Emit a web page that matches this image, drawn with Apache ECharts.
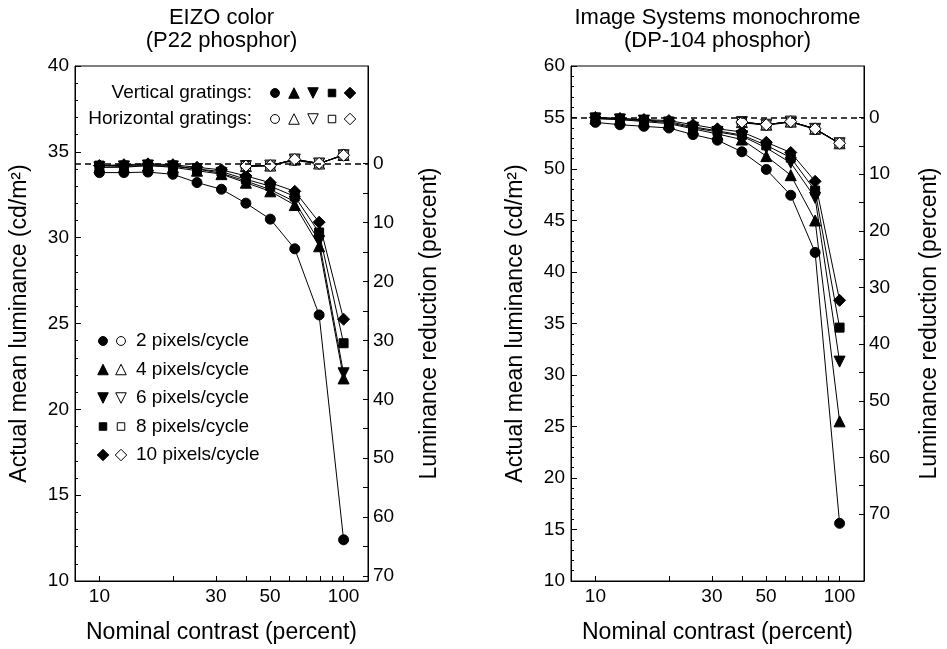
<!DOCTYPE html>
<html><head><meta charset="utf-8">
<script src="https://cdn.jsdelivr.net/npm/echarts@6/dist/echarts.min.js"></script>
<style>html,body{margin:0;padding:0;background:#fff}#c{width:947px;height:649px}</style>
</head><body><div id="c"></div>
<script>
// ---------- data ----------
const contrast = [10, 12.6, 15.8, 20, 25.1, 31.6, 39.8, 50.1, 63.1, 79.4, 100];
const contrastHigh = [39.8, 50.1, 63.1, 79.4, 100];
const xTickValues = [10, 20, 30, 40, 50, 60, 70, 80, 90, 100];
const xLabelValues = [10, 30, 50, 100];
const reductionLabels = [0, 10, 20, 30, 40, 50, 60, 70];
const reductionTicks = [0, 5, 10, 15, 20, 25, 30, 35, 40, 45, 50, 55, 60, 65, 70];
const pixelLabels = ['2 pixels/cycle', '4 pixels/cycle', '6 pixels/cycle', '8 pixels/cycle', '10 pixels/cycle'];

// EIZO color (P22) - vertical gratings
const eizoV2  = [33.79, 33.79, 33.82, 33.69, 33.21, 32.82, 32.01, 31.08, 29.35, 25.5, 12.4];
const eizoV4  = [34.1, 34.1, 34.2, 34.1, 33.9, 33.7, 33.2, 32.7, 31.9, 29.5, 21.8];
const eizoV6  = [34.1, 34.15, 34.2, 34.15, 34.0, 33.75, 33.3, 32.8, 32.1, 29.8, 22.1];
const eizoV8  = [34.2, 34.2, 34.25, 34.2, 34.0, 33.85, 33.4, 33.0, 32.4, 30.3, 23.85];
const eizoV10 = [34.2, 34.25, 34.3, 34.25, 34.1, 33.95, 33.6, 33.2, 32.7, 30.9, 25.25];
// EIZO - horizontal gratings (high contrasts)
const eizoH2  = [34.15, 34.2, 34.5, 34.3, 34.85];
const eizoH4  = [34.17, 34.2, 34.55, 34.32, 34.82];
const eizoH6  = [34.17, 34.2, 34.55, 34.32, 34.8];
const eizoH8  = [34.17, 34.2, 34.56, 34.33, 34.8];
const eizoH10 = [34.17, 34.2, 34.56, 34.33, 34.8];
const eizoRef = 34.31;

// Image Systems monochrome (DP-104) - vertical gratings
const isV2  = [54.53, 54.3, 54.14, 53.98, 53.34, 52.8, 51.67, 49.96, 47.45, 41.9, 15.6];
const isV4  = [54.9, 54.8, 54.6, 54.4, 53.9, 53.4, 52.86, 51.25, 49.4, 45.0, 25.5];
const isV6  = [54.9, 54.8, 54.7, 54.5, 54.0, 53.6, 53.2, 52.05, 50.6, 47.2, 31.3];
const isV8  = [55.0, 54.9, 54.75, 54.6, 54.1, 53.7, 53.3, 52.3, 51.1, 47.9, 34.6];
const isV10 = [55.0, 54.9, 54.8, 54.7, 54.3, 53.9, 53.6, 52.6, 51.6, 48.8, 37.25];
// Image Systems - horizontal gratings
const isH2  = [54.5, 54.25, 54.55, 53.85, 52.45];
const isH4  = [54.55, 54.3, 54.6, 53.9, 52.5];
const isH6  = [54.55, 54.3, 54.6, 53.9, 52.5];
const isH8  = [54.56, 54.3, 54.6, 53.9, 52.5];
const isH10 = [54.56, 54.3, 54.6, 53.9, 52.5];
const isRef = 55.0;

// ---------- style ----------
const FONT = 'Liberation Sans, Arial, Helvetica, sans-serif';
const K = '#000';
const NAME_FS = 23;
const TICK_FS = 19;
const LEG_FS = 19;
const shapes = [
  {symbol: 'circle', rotate: 0, size: 10},
  {symbol: 'triangle', rotate: 0, size: 11},
  {symbol: 'triangle', rotate: 180, size: 11},
  {symbol: 'rect', rotate: 0, size: 9},
  {symbol: 'diamond', rotate: 0, size: 12}
];
const lg = Math.log10;

function lineSeries(name, gi, xs, ys, shapeIdx, filled, extra) {
  const sh = shapes[shapeIdx];
  return Object.assign({
    name: name, type: 'line', xAxisIndex: gi, yAxisIndex: gi * 2,
    data: xs.map((c, i) => [lg(c), ys[i]]),
    symbol: sh.symbol, symbolRotate: sh.rotate, symbolSize: sh.size,
    showAllSymbol: true, silent: true, animation: false,
    lineStyle: {color: K, width: 1},
    itemStyle: {color: filled ? K : '#fff', borderColor: K, borderWidth: 1}
  }, extra || {});
}
function refLine(v) {
  return {silent: true, symbol: 'none', label: {show: false}, animation: false,
    lineStyle: {color: K, width: 1.5, type: [6, 4]}, data: [{yAxis: v}]};
}

const gridL = {left: 75, top: 66, width: 293, height: 518};
const gridR = {left: 571, top: 66, width: 293, height: 518};

function xAxisFor(gi) {
  return {
    type: 'value', gridIndex: gi, min: 0.9, max: 2.1,
    name: 'Nominal contrast (percent)', nameLocation: 'middle', nameGap: 40,
    nameTextStyle: {fontFamily: FONT, fontSize: NAME_FS, color: K},
    axisLine: {show: true, onZero: false, lineStyle: {color: K, width: 1}},
    axisTick: {show: true, inside: true, length: 5, lineStyle: {color: K}, customValues: xTickValues.map(lg)},
    axisLabel: {fontFamily: FONT, fontSize: TICK_FS, color: K, margin: 6,
      customValues: xLabelValues.map(lg), formatter: v => String(Math.round(Math.pow(10, v)))},
    splitLine: {show: false}
  };
}
function yLeft(gi, min, max) {
  return {
    type: 'value', gridIndex: gi, position: 'left', min: min, max: max, interval: 5,
    name: 'Actual mean luminance (cd/m²)', nameLocation: 'middle', nameGap: 44, nameRotate: 90,
    nameTextStyle: {fontFamily: FONT, fontSize: NAME_FS, color: K},
    axisLine: {show: true, onZero: false, lineStyle: {color: K, width: 1}},
    axisTick: {show: true, inside: true, length: 6, lineStyle: {color: K}},
    minorTick: {show: true, splitNumber: 5, length: 3, lineStyle: {color: K}},
    axisLabel: {fontFamily: FONT, fontSize: TICK_FS, color: K, margin: 6},
    splitLine: {show: false}
  };
}
function yRight(gi, ref, lmin, lmax, gap) {
  return {
    type: 'value', gridIndex: gi, position: 'right', inverse: true,
    min: (1 - lmax / ref) * 100, max: (1 - lmin / ref) * 100,
    name: 'Luminance reduction (percent)', nameLocation: 'middle', nameGap: gap, nameRotate: 90,
    nameTextStyle: {fontFamily: FONT, fontSize: NAME_FS, color: K},
    axisLine: {show: true, onZero: false, lineStyle: {color: K, width: 1}},
    axisTick: {show: true, inside: true, length: 5, lineStyle: {color: K}, customValues: reductionTicks},
    axisLabel: {fontFamily: FONT, fontSize: TICK_FS, color: K, margin: 5, customValues: reductionLabels},
    splitLine: {show: false}
  };
}

const series = [
  // EIZO panel
  lineSeries('v2', 0, contrast, eizoV2, 0, true, {markLine: refLine(eizoRef)}),
  lineSeries('v4', 0, contrast, eizoV4, 1, true),
  lineSeries('v6', 0, contrast, eizoV6, 2, true),
  lineSeries('v8', 0, contrast, eizoV8, 3, true),
  lineSeries('v10', 0, contrast, eizoV10, 4, true),
  lineSeries('h2', 0, contrastHigh, eizoH2, 0, false),
  lineSeries('h4', 0, contrastHigh, eizoH4, 1, false),
  lineSeries('h6', 0, contrastHigh, eizoH6, 2, false),
  lineSeries('h8', 0, contrastHigh, eizoH8, 3, false),
  lineSeries('h10', 0, contrastHigh, eizoH10, 4, false),
  // Image Systems panel
  lineSeries('v2', 1, contrast, isV2, 0, true, {markLine: refLine(isRef)}),
  lineSeries('v4', 1, contrast, isV4, 1, true),
  lineSeries('v6', 1, contrast, isV6, 2, true),
  lineSeries('v8', 1, contrast, isV8, 3, true),
  lineSeries('v10', 1, contrast, isV10, 4, true),
  lineSeries('h2', 1, contrastHigh, isH2, 0, false),
  lineSeries('h4', 1, contrastHigh, isH4, 1, false),
  lineSeries('h6', 1, contrastHigh, isH6, 2, false),
  lineSeries('h8', 1, contrastHigh, isH8, 3, false),
  lineSeries('h10', 1, contrastHigh, isH10, 4, false)
];

// legend glyphs drawn as graphic shapes
function gSym(idx, filled, x, y) {
  const s = shapes[idx].size - 0.5, h = s / 2;
  const style = {fill: filled ? K : '#fff', stroke: K, lineWidth: 1};
  const base = {silent: true, z: 100, style: style};
  if (idx === 0) return Object.assign({type: 'circle', shape: {cx: x, cy: y, r: h - 0.3}}, base);
  if (idx === 1) return Object.assign({type: 'polygon', shape: {points: [[x, y - h], [x + h, y + h], [x - h, y + h]]}}, base);
  if (idx === 2) return Object.assign({type: 'polygon', shape: {points: [[x, y + h], [x + h, y - h], [x - h, y - h]]}}, base);
  if (idx === 3) return Object.assign({type: 'rect', shape: {x: x - h + 0.5, y: y - h + 0.5, width: s - 1, height: s - 1}}, base);
  return Object.assign({type: 'polygon', shape: {points: [[x, y - h], [x + h, y], [x, y + h], [x - h, y]]}}, base);
}
function gText(text, x, y, align) {
  return {type: 'text', silent: true, z: 100,
    style: {text: text, x: x, y: y, align: align, verticalAlign: 'middle',
      font: LEG_FS + 'px ' + FONT, fill: K}};
}
const graphic = [];
graphic.push({type: 'text', silent: true,
  style: {text: 'EIZO color\n(P22 phosphor)', x: 221.5, y: 6, align: 'center', verticalAlign: 'top',
    font: '22px ' + FONT, lineHeight: 23, fill: K}});
graphic.push({type: 'text', silent: true,
  style: {text: 'Image Systems monochrome\n(DP-104 phosphor)', x: 717.5, y: 6, align: 'center', verticalAlign: 'top',
    font: '22px ' + FONT, lineHeight: 23, fill: K}});
graphic.push(gText('Vertical gratings:', 252, 93, 'right'));
graphic.push(gText('Horizontal gratings:', 252, 119, 'right'));
const legX = [275, 294, 313, 332, 350];
for (let i = 0; i < 5; i++) {
  graphic.push(gSym(i, true, legX[i], 93));
  graphic.push(gSym(i, false, legX[i], 119));
}
const rowY = [341, 369.5, 398, 426.5, 455];
for (let i = 0; i < 5; i++) {
  graphic.push(gSym(i, true, 103, rowY[i]));
  graphic.push(gSym(i, false, 121, rowY[i]));
  graphic.push(gText(pixelLabels[i], 136, rowY[i], 'left'));
}

const option = {
  backgroundColor: '#fff',
  animation: false,
  grid: [
    Object.assign({show: true, borderColor: K, borderWidth: 1, backgroundColor: 'transparent'}, gridL),
    Object.assign({show: true, borderColor: K, borderWidth: 1, backgroundColor: 'transparent'}, gridR)
  ],
  xAxis: [xAxisFor(0), xAxisFor(1)],
  yAxis: [yLeft(0, 10, 40), yRight(0, eizoRef, 10, 40, 50), yLeft(1, 10, 60), yRight(1, isRef, 10, 60, 54)],
  series: series,
  graphic: graphic
};
const chart = echarts.init(document.getElementById('c'), null, {renderer: 'canvas'});
chart.setOption(option);
</script>
</body></html>
